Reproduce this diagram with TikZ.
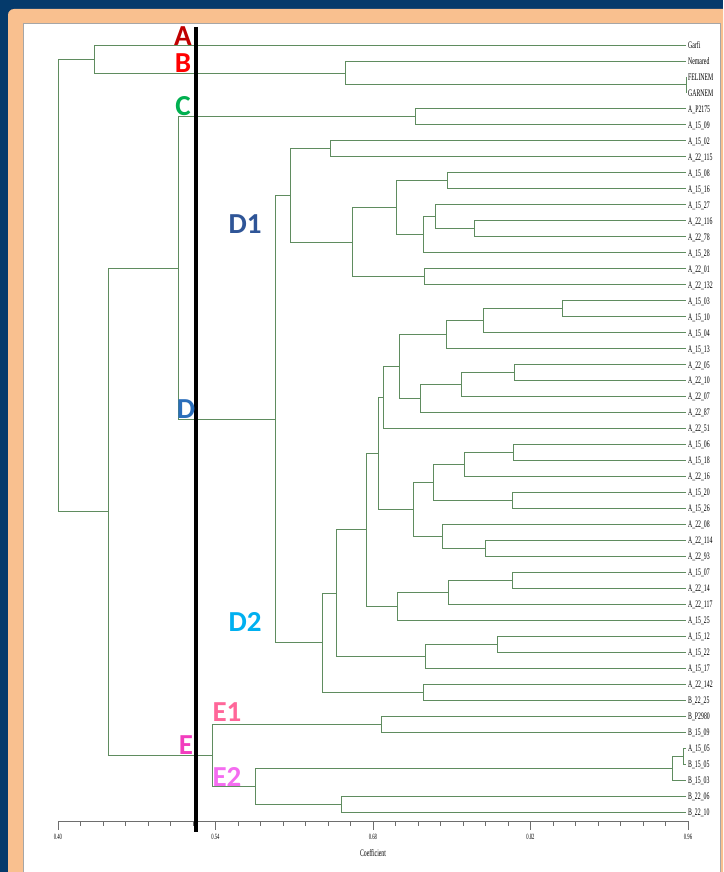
\documentclass[tikz,border=0pt]{standalone}
\usepackage{fontspec}
\usepackage{graphicx}
\setmainfont{Liberation Serif}
\newfontfamily\lblfont{Carlito}
\usetikzlibrary{calc}
\definecolor{bgblue}{HTML}{053A6B}
\definecolor{peach}{HTML}{F9C08F}
\definecolor{dend}{RGB}{95,140,95}
\definecolor{axgray}{RGB}{110,110,110}
\definecolor{cA}{HTML}{C00000}
\definecolor{cB}{HTML}{FF0000}
\definecolor{cC}{HTML}{00B050}
\definecolor{cDone}{HTML}{2F5597}
\definecolor{cD}{HTML}{2A6EBB}
\definecolor{cDtwo}{HTML}{00B0F0}
\definecolor{cEone}{HTML}{FF6699}
\definecolor{cE}{HTML}{F23DBE}
\definecolor{cEtwo}{HTML}{F46CF0}
\newcommand\leaflab[1]{\scalebox{0.58}[1]{#1}}
\newcommand\mrg[4]{%
  \coordinate (#1m) at ($(#3)!0.5!(#4)$);
  \coordinate (#1) at (#2,0 |- #1m);
  \draw[branch] (#3) -- (#3 -| #1) -- (#4 -| #1) -- (#4);
}
\tikzset{
  branch/.style={draw=dend, line width=0.9pt, line join=miter},
  leaflbl/.style={anchor=base west, inner sep=0pt, font=\fontsize{10}{10}\selectfont},
  axlbl/.style={anchor=center, inner sep=0pt, font=\fontsize{8}{8}\selectfont},
  axline/.style={draw=axgray, line width=0.8pt},
  grp/.style={anchor=center, inner sep=0pt, font=\lblfont\bfseries\fontsize{29}{29}\selectfont},
}
\begin{document}
\begin{tikzpicture}[x=1pt,y=-1pt]
\useasboundingbox (0,0) rectangle (723,872);
\clip (0,0) rectangle (723,872);
% frame
\fill[bgblue] (0,0) rectangle (723,872);
\fill[peach, rounded corners=6pt] (8,9) rectangle (730,900);
\filldraw[fill=white, draw=gray!70, line width=0.8pt] (23,23) rectangle (720,900);
% leaves
\foreach \lab [count=\i from 0] in {Garfi,Nemared,FELINEM,GARNEM,A\_P2175,A\_15\_09,A\_15\_02,A\_22\_115,A\_15\_08,A\_15\_16,A\_15\_27,A\_22\_116,A\_22\_78,A\_15\_28,A\_22\_01,A\_22\_132,A\_15\_03,A\_15\_10,A\_15\_04,A\_15\_13,A\_22\_05,A\_22\_10,A\_22\_07,A\_22\_87,A\_22\_51,A\_15\_06,A\_15\_18,A\_22\_16,A\_15\_20,A\_15\_26,A\_22\_08,A\_22\_114,A\_22\_93,A\_15\_07,A\_22\_14,A\_22\_117,A\_15\_25,A\_15\_12,A\_15\_22,A\_15\_17,A\_22\_142,B\_22\_25,B\_P2980,B\_15\_09,A\_15\_05,B\_15\_05,B\_15\_03,B\_22\_06,B\_22\_10}{
  \coordinate (l\i) at (686,{45+15.98*\i});
  \node[leaflbl] (t\i) at (688,{48.4+15.98*\i}) {\leaflab{\lab}};
}
% top cluster
\mrg{nFG}{686}{l2}{l3}
\mrg{nNem}{345}{l1}{nFG}
\mrg{nAB}{94}{l0}{nNem}
% C
\mrg{nC}{415}{l4}{l5}
% D1
\mrg{nA}{330}{l6}{l7}
\mrg{nB}{447}{l8}{l9}
\mrg{nCc}{474}{l11}{l12}
\mrg{nDd}{435}{l10}{nCc}
\mrg{nEe}{423}{nDd}{l13}
\mrg{nF}{396}{nB}{nEe}
\mrg{nG}{424}{l14}{l15}
\mrg{nH}{352}{nF}{nG}
\mrg{nDone}{290}{nA}{nH}
% D2
\mrg{p1}{562}{l16}{l17}
\mrg{p2}{483}{p1}{l18}
\mrg{p3}{446}{p2}{l19}
\mrg{p4}{514}{l20}{l21}
\mrg{p5}{461}{p4}{l22}
\mrg{p6}{420}{p5}{l23}
\mrg{p7}{399}{p3}{p6}
\mrg{p8}{383}{p7}{l24}
\mrg{p9}{513}{l25}{l26}
\mrg{p10}{464}{p9}{l27}
\mrg{p11}{512}{l28}{l29}
\mrg{p12}{433}{p10}{p11}
\mrg{p13}{485}{l31}{l32}
\mrg{p14}{442}{l30}{p13}
\mrg{p15}{413}{p12}{p14}
\mrg{p16}{378}{p8}{p15}
\mrg{p17}{512}{l33}{l34}
\mrg{p18}{448}{p17}{l35}
\mrg{p19}{397}{p18}{l36}
\mrg{p20}{366}{p16}{p19}
\mrg{p21}{497}{l37}{l38}
\mrg{p22}{425}{p21}{l39}
\mrg{p23}{336}{p20}{p22}
\mrg{p24}{423}{l40}{l41}
\mrg{nDtwo}{322}{p23}{p24}
\mrg{nD}{275}{nDone}{nDtwo}
\mrg{nCD}{178}{nC}{nD}
% E
\mrg{nEone}{381}{l42}{l43}
\mrg{q1}{683}{l44}{l45}
\mrg{q2}{672}{q1}{l46}
\mrg{q3}{341}{l47}{l48}
\mrg{nEtwo}{255}{q2}{q3}
\mrg{nE}{212}{nEone}{nEtwo}
\mrg{nL}{108}{nCD}{nE}
\mrg{nRoot}{58}{nAB}{nL}
% axis
\coordinate (ax0) at (58,821);
\coordinate (ax1) at (688,821);
\draw[axline] (ax0) -- (ax1);
\foreach \k in {0,...,28} \draw[axline] ({58+22.5*\k},821) -- ++(0,5);
\foreach \k/\v in {0/0.40,1/0.54,2/0.68,3/0.82,4/0.96}{
  \draw[axline] ({58+157.5*\k},821) -- ++(0,9);
  \node[axlbl] (tick\k) at ({58+157.5*\k},837) {\leaflab{\v}};
}
\node[axlbl, font=\fontsize{10}{10}\selectfont] (coef) at (373,853) {\leaflab{Coefficient}};
% black cut line
\coordinate (cut0) at (196,27);
\coordinate (cut1) at (196,832);
\draw[black, line width=4.3pt] (cut0) -- (cut1);
% group letters
\node[grp, text=cA] (gA) at (183,36) {A};
\node[grp, text=cB] (gB) at (183,63) {B};
\node[grp, text=cC] (gC) at (183,106) {C};
\node[grp, text=cDone] (gD1) at (245,224) {D1};
\node[grp, text=cD] (gD) at (186,409) {D};
\node[grp, text=cDtwo] (gD2) at (245,622) {D2};
\node[grp, text=cEone] (gE1) at (227,712) {E1};
\node[grp, text=cE] (gE) at (186,745) {E};
\node[grp, text=cEtwo] (gE2) at (227,777) {E2};
\end{tikzpicture}
\end{document}
